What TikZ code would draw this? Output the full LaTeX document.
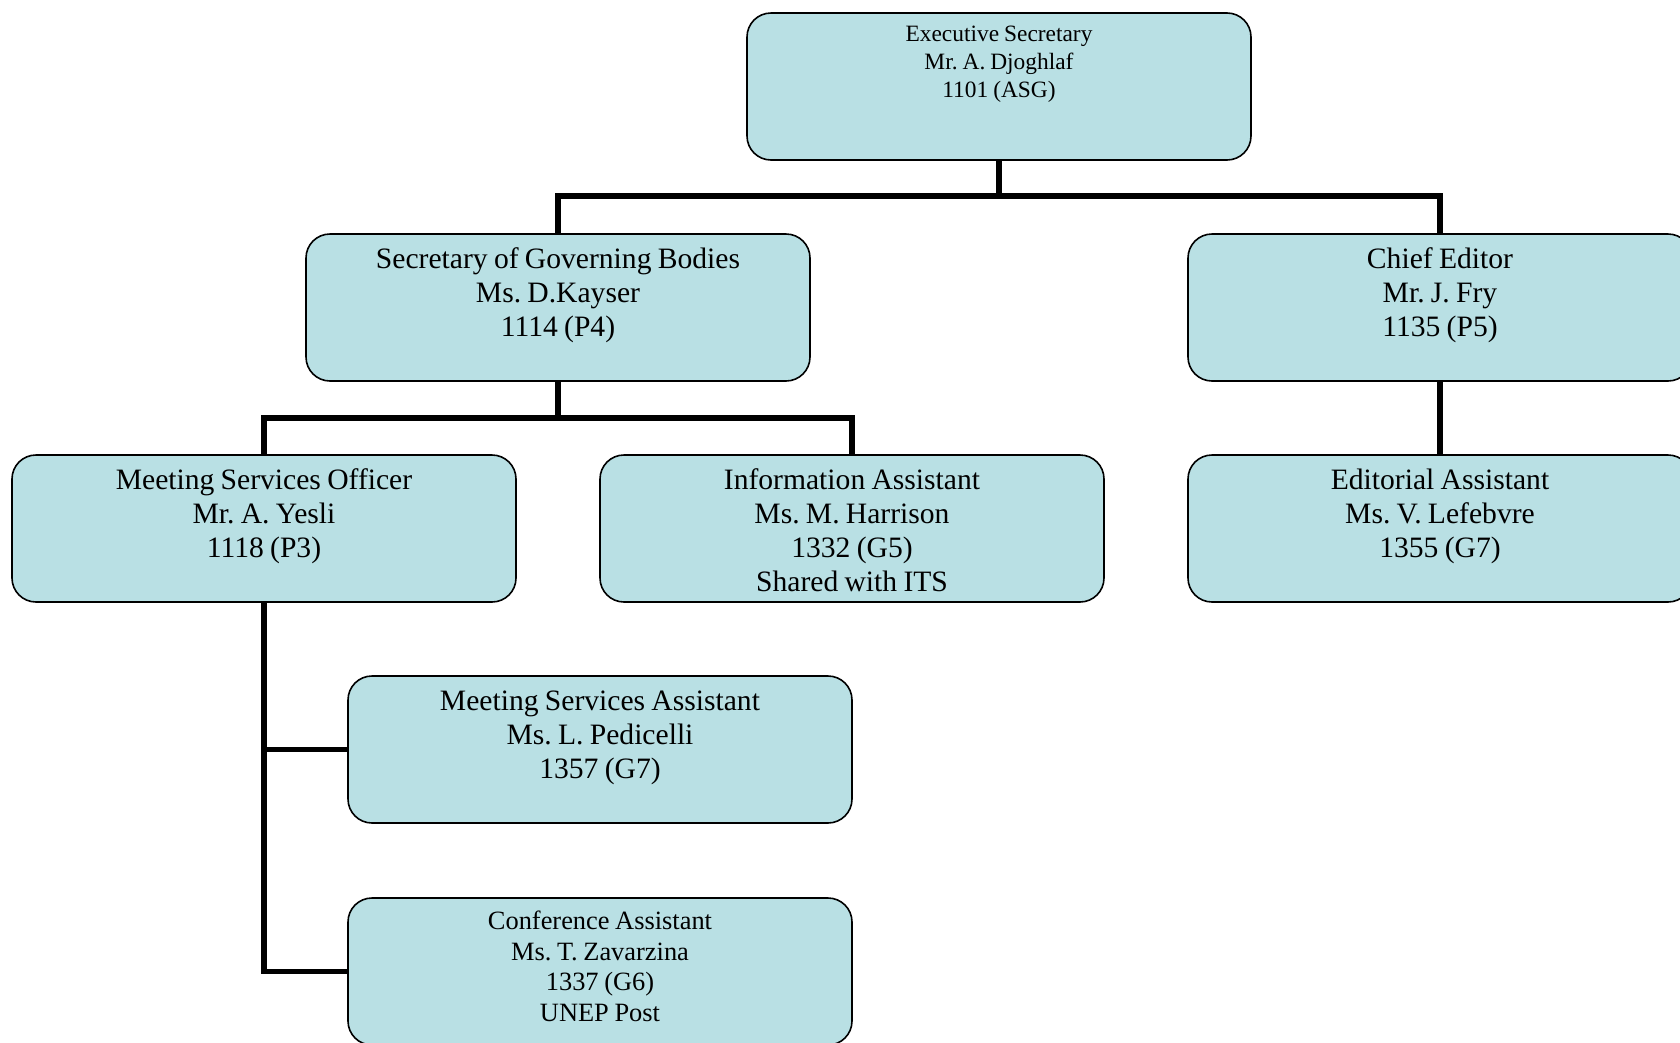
\documentclass[tikz,border=0pt]{standalone}
\usepackage{fontspec}
\setmainfont{Liberation Serif}[WordSpace={0.85,0,0}]
\definecolor{boxfill}{RGB}{185,224,228}
\newcommand\orgtext[4]{\parbox[c][147pt][t]{504pt}{\centering\frenchspacing\fontsize{#1pt}{#2pt}\selectfont\rule{0pt}{#3pt}#4\par}}
\begin{document}
\begin{tikzpicture}[x=1pt,y=-1pt,
  org/.style={draw=black, line width=1.6pt, fill=boxfill, rounded corners=24pt, inner sep=0pt, outer sep=0pt, anchor=north west},
  conn/.style={line width=5.5pt, line join=miter, line cap=butt}]
\useasboundingbox (0,0) rectangle (1680,1042);
\clip (0,0) rectangle (1680,1042);

\node[org] (top) at (747,13) {\orgtext{23.4}{28}{28.5}{Executive Secretary\\Mr. A. Djoghlaf\\1101 (ASG)}};
\node[org] (sec) at (306,234) {\orgtext{29.6}{34.3}{34}{Secretary of Governing Bodies\\Ms. D.Kayser\\1114 (P4)}};
\node[org] (chief) at (1188,234) {\orgtext{29.6}{34.3}{34}{Chief Editor\\Mr. J. Fry\\1135 (P5)}};
\node[org] (mso) at (12,455) {\orgtext{29.6}{34.3}{34}{Meeting Services Officer\\Mr. A. Yesli\\1118 (P3)}};
\node[org] (info) at (600,455) {\orgtext{29.6}{34.3}{34}{Information Assistant\\Ms. M. Harrison\\1332 (G5)\\Shared with ITS}};
\node[org] (edit) at (1188,455) {\orgtext{29.6}{34.3}{34}{Editorial Assistant\\Ms. V. Lefebvre\\1355 (G7)}};
\node[org] (msa) at (348,676) {\orgtext{29.6}{34.3}{34}{Meeting Services Assistant\\Ms. L. Pedicelli\\1357 (G7)}};
\node[org] (conf) at (348,898) {\orgtext{26.4}{30.7}{31.5}{Conference Assistant\\Ms. T. Zavarzina\\1337 (G6)\\UNEP Post}};

\coordinate (j1) at (999,196);
\coordinate (j2) at (558,418);

\draw[conn] (top.south) -- (top.south |- j1);
\draw[conn] (sec.north) -- (sec.north |- j1) -- (chief.north |- j1) -- (chief.north);
\draw[conn] (sec.south) -- (sec.south |- j2);
\draw[conn] (mso.north) -- (mso.north |- j2) -- (info.north |- j2) -- (info.north);
\draw[conn] (chief.south) -- (edit.north);
\draw[conn] (mso.south) -- (mso.south |- conf.west) -- (conf.west);
\draw[conn] (mso.south |- msa.west) -- (msa.west);
\end{tikzpicture}
\end{document}
